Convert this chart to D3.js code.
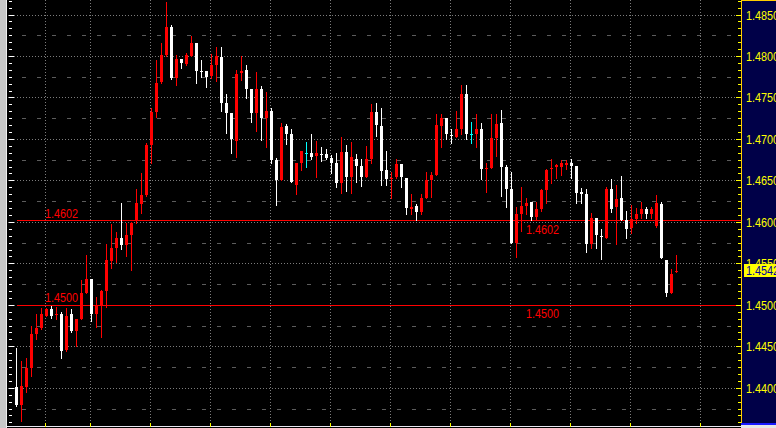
<!DOCTYPE html>
<html><head><meta charset="utf-8">
<script src="https://cdn.jsdelivr.net/npm/d3@7"></script>
<style>html,body{margin:0;padding:0;background:#000;overflow:hidden}svg{display:block}</style>
</head><body><svg id="c" width="776" height="428"></svg>
<script>
// ---- data ----
const open = [1.4401,1.4380,1.4402,1.4425,1.4466,1.4473,1.4487,1.4496,1.4489,1.4490,
1.4446,1.4490,1.4469,1.4483,1.4515,1.4532,1.4490,1.4501,1.4517,1.4554,
1.4569,1.4581,1.4573,1.4585,1.4603,1.4622,1.4633,1.4693,1.4733,1.4769,
1.4802,1.4836,1.4774,1.4797,1.4791,1.4801,1.4816,1.4783,1.4783,1.4777,
1.4790,1.4799,1.4744,1.4732,1.4698,1.4780,1.4784,1.4761,1.4732,1.4761,
1.4726,1.4734,1.4675,1.4651,1.4716,1.4706,1.4645,1.4672,1.4684,1.4684,
1.4680,1.4683,1.4683,1.4678,1.4672,1.4648,1.4685,1.4655,1.4676,1.4668,
1.4655,1.4676,1.4733,1.4716,1.4663,1.4653,1.4655,1.4670,1.4654,1.4616,
1.4620,1.4613,1.4630,1.4651,1.4657,1.4716,1.4726,1.4705,1.4703,1.4712,
1.4755,1.4706,1.4706,1.4712,1.4664,1.4666,1.4702,1.4720,1.4667,1.4640,
1.4575,1.4610,1.4620,1.4625,1.4607,1.4616,1.4639,1.4664,1.4667,1.4667,
1.4669,1.4672,1.4668,1.4637,1.4634,1.4574,1.4605,1.4584,1.4581,1.4640,
1.4619,1.4630,1.4603,1.4593,1.4604,1.4610,1.4616,1.4610,1.4596,1.4622,
1.4555,1.4515,1.4541];
const high = [1.4449,1.4433,1.4436,1.4475,1.4490,1.4497,1.4497,1.4499,1.4498,1.4492,
1.4497,1.4495,1.4483,1.4531,1.4561,1.4532,1.4510,1.4519,1.4574,1.4598,
1.4589,1.4623,1.4599,1.4601,1.4640,1.4660,1.4696,1.4738,1.4796,1.4816,
1.4866,1.4838,1.4802,1.4797,1.4804,1.4825,1.4816,1.4796,1.4783,1.4803,
1.4811,1.4811,1.4755,1.4732,1.4784,1.4801,1.4790,1.4761,1.4781,1.4765,
1.4757,1.4738,1.4678,1.4720,1.4719,1.4713,1.4672,1.4686,1.4697,1.4707,
1.4698,1.4691,1.4689,1.4681,1.4684,1.4703,1.4693,1.4697,1.4683,1.4676,
1.4692,1.4743,1.4744,1.4738,1.4686,1.4661,1.4676,1.4670,1.4654,1.4634,
1.4622,1.4634,1.4661,1.4661,1.4731,1.4731,1.4726,1.4713,1.4734,1.4766,
1.4766,1.4721,1.4731,1.4720,1.4672,1.4731,1.4731,1.4736,1.4669,1.4661,
1.4619,1.4643,1.4630,1.4625,1.4625,1.4640,1.4664,1.4676,1.4670,1.4675,
1.4675,1.4676,1.4668,1.4642,1.4640,1.4611,1.4605,1.4592,1.4643,1.4652,
1.4645,1.4656,1.4614,1.4621,1.4617,1.4625,1.4619,1.4619,1.4633,1.4625,
1.4555,1.4544,1.4561];
const low = [1.4379,1.4361,1.4395,1.4415,1.4460,1.4472,1.4487,1.4485,1.4484,1.4437,
1.4445,1.4468,1.4451,1.4483,1.4515,1.4481,1.4474,1.4462,1.4498,1.4545,
1.4552,1.4568,1.4560,1.4543,1.4599,1.4611,1.4632,1.4672,1.4727,1.4768,
1.4801,1.4773,1.4766,1.4786,1.4790,1.4801,1.4768,1.4775,1.4763,1.4774,
1.4771,1.4734,1.4708,1.4684,1.4679,1.4772,1.4750,1.4721,1.4710,1.4699,
1.4691,1.4672,1.4621,1.4651,1.4695,1.4649,1.4634,1.4663,1.4667,1.4676,
1.4655,1.4674,1.4677,1.4660,1.4643,1.4636,1.4638,1.4636,1.4649,1.4644,
1.4655,1.4672,1.4704,1.4645,1.4645,1.4630,1.4654,1.4643,1.4610,1.4610,
1.4603,1.4610,1.4630,1.4631,1.4657,1.4691,1.4701,1.4696,1.4703,1.4707,
1.4701,1.4696,1.4691,1.4652,1.4637,1.4666,1.4680,1.4632,1.4619,1.4575,
1.4558,1.4590,1.4610,1.4603,1.4604,1.4614,1.4623,1.4648,1.4654,1.4657,
1.4664,1.4654,1.4623,1.4623,1.4564,1.4569,1.4569,1.4556,1.4581,1.4613,
1.4574,1.4603,1.4581,1.4587,1.4599,1.4605,1.4605,1.4605,1.4595,1.4557,
1.4511,1.4515,1.4540];
const close = [1.4380,1.4403,1.4425,1.4466,1.4473,1.4490,1.4496,1.4487,1.4490,1.4445,
1.4487,1.4469,1.4483,1.4515,1.4532,1.4490,1.4501,1.4517,1.4555,1.4569,
1.4581,1.4573,1.4585,1.4599,1.4623,1.4633,1.4693,1.4733,1.4768,1.4802,
1.4836,1.4774,1.4797,1.4792,1.4802,1.4816,1.4783,1.4781,1.4775,1.4790,
1.4801,1.4744,1.4732,1.4701,1.4779,1.4783,1.4761,1.4732,1.4761,1.4726,
1.4734,1.4675,1.4651,1.4715,1.4706,1.4649,1.4672,1.4686,1.4684,1.4679,
1.4684,1.4682,1.4678,1.4672,1.4648,1.4685,1.4655,1.4679,1.4668,1.4655,
1.4676,1.4733,1.4718,1.4662,1.4652,1.4654,1.4670,1.4655,1.4617,1.4619,
1.4613,1.4630,1.4651,1.4657,1.4718,1.4726,1.4706,1.4704,1.4712,1.4755,
1.4706,1.4706,1.4712,1.4664,1.4666,1.4702,1.4719,1.4667,1.4640,1.4575,
1.4610,1.4620,1.4623,1.4607,1.4616,1.4639,1.4663,1.4666,1.4669,1.4672,
1.4672,1.4668,1.4636,1.4634,1.4574,1.4605,1.4585,1.4583,1.4640,1.4616,
1.4628,1.4603,1.4592,1.4604,1.4610,1.4616,1.4610,1.4616,1.4623,1.4557,
1.4515,1.4538,1.4542];
const priceTicks = [1.4400,1.4450,1.4500,1.4550,1.4600,1.4650,1.4700,1.4750,1.4800,1.4850];
const tickLabels = ["1.4400","1.4450","1.4500","1.4550","1.4600","1.4650","1.4700","1.4750","1.4800","1.4850"];
const minorLevels = [1.4375,1.4425,1.4475,1.4525,1.4575,1.4625,1.4675,1.4725,1.4775,1.4825];
const levelLines = [1.4602,1.4500];
const levelLabels = ["1.4602","1.4500"];
const periodMarks = [5.8,14.8,26.8,38.8,50.8,62.8,74.8,86.8,98.8,110.8,122.8,136.8];
const lastPrice = 1.4542, lastLabel = "1.4542";
const rulerDivisions = 6;

// ---- drawing ----
const W=776, H=428, plotL=7, plotR=741, plotB=425;
const svg = d3.select("#c");
const x = d3.scaleLinear().domain([0, close.length-1]).range([16.5, 676.5]);
const y = d3.scaleLinear().domain([1.4400, 1.4850]).range([388.3, 15]);
const crisp = v => Math.floor(v) + 0.5;
const FONT = "'Liberation Sans', Arial, sans-serif";

svg.append("rect").attr("width",W).attr("height",H).attr("fill","#000");
svg.append("rect").attr("x",0).attr("y",0).attr("width",6).attr("height",H).attr("fill","#c8c8c8");
svg.append("rect").attr("x",6).attr("y",0).attr("width",1).attr("height",H).attr("fill","#eeeeee");

const grid = svg.append("g").attr("shape-rendering","crispEdges");
// major horizontal dotted
grid.selectAll("line.hmaj").data(priceTicks).join("line").attr("class","hmaj")
  .attr("x1",plotL+1).attr("x2",plotR).attr("y1",d=>crisp(y(d))).attr("y2",d=>crisp(y(d)))
  .attr("stroke","#7c7c7c").attr("stroke-dasharray","1,2");
// minor dashed
grid.selectAll("line.hmin").data(minorLevels).join("line").attr("class","hmin")
  .attr("x1",22).attr("x2",plotR).attr("y1",d=>crisp(y(d))).attr("y2",d=>crisp(y(d)))
  .attr("stroke","#5c5c5c").attr("stroke-dasharray","4,11");
// vertical dotted
grid.selectAll("line.v").data(periodMarks).join("line").attr("class","v")
  .attr("x1",d=>crisp(x(d))).attr("x2",d=>crisp(x(d))).attr("y1",0).attr("y2",plotB)
  .attr("stroke","#7c7c7c").attr("stroke-dasharray","1,2");

// ruler ticks
const step = (priceTicks[1]-priceTicks[0]) / rulerDivisions;
const ruler = [];
for (let k=-3; k<80; k++) {
  const p = priceTicks[priceTicks.length-1] - k*step;
  const yy = y(p);
  if (yy >= 0 && yy <= plotB-1) ruler.push({yy, major: ((k%rulerDivisions)+rulerDivisions)%rulerDivisions===0});
}
const rg = svg.append("g").attr("shape-rendering","crispEdges");
rg.selectAll("line.l").data(ruler).join("line").attr("class","l")
  .attr("x1",9).attr("x2",d=>d.major?14:12).attr("y1",d=>crisp(d.yy)).attr("y2",d=>crisp(d.yy))
  .attr("stroke","#ffffff");

// level lines
const lv = svg.append("g").attr("shape-rendering","crispEdges");
lv.selectAll("line").data(levelLines).join("line")
  .attr("x1",x(0)).attr("x2",plotR).attr("y1",d=>crisp(y(d))).attr("y2",d=>crisp(y(d)))
  .attr("stroke","#ff0000");

// candles
const data = close.map((c,i)=>({i,o:open[i],h:high[i],l:low[i],c}));
const colorOf = d => d.c > d.o ? "#ff0000" : (d.c < d.o ? "#ffffff" : "#00ffff");
const cg = svg.append("g").attr("shape-rendering","crispEdges");
cg.selectAll("line").data(data).join("line")
  .attr("x1",d=>x(d.i)).attr("x2",d=>x(d.i))
  .attr("y1",d=>Math.round(y(d.h))).attr("y2",d=>Math.round(y(d.l))+1)
  .attr("stroke",colorOf);
cg.selectAll("rect").data(data).join("rect")
  .attr("x",d=>x(d.i)-1.5).attr("width",3)
  .attr("y",d=>Math.round(y(Math.max(d.o,d.c))))
  .attr("height",d=>Math.max(1, Math.round(y(Math.min(d.o,d.c))) - Math.round(y(Math.max(d.o,d.c)))))
  .attr("fill",colorOf);

// level labels
const lt = svg.append("g").attr("font-family",FONT).attr("font-size","12.5px").attr("fill","#ff0000");
lt.selectAll("text.a").data(levelLines).join("text").attr("class","a")
  .attr("x",45).attr("y",d=>Math.round(y(d))-3).attr("textLength",33).attr("lengthAdjust","spacingAndGlyphs")
  .text((d,i)=>levelLabels[i]);
lt.selectAll("text.b").data(levelLines).join("text").attr("class","b")
  .attr("x",526).attr("y",d=>Math.round(y(d))+13).attr("textLength",33).attr("lengthAdjust","spacingAndGlyphs")
  .text((d,i)=>levelLabels[i]);

// bottom border
svg.append("line").attr("x1",plotL).attr("x2",plotR).attr("y1",426.5).attr("y2",426.5)
  .attr("stroke","#e8e8f0").attr("shape-rendering","crispEdges");
svg.selectAll("line.bt").data(periodMarks).join("line").attr("class","bt")
  .attr("x1",d=>crisp(x(d))).attr("x2",d=>crisp(x(d))).attr("y1",423).attr("y2",427)
  .attr("stroke","#ffff00").attr("shape-rendering","crispEdges");

// right axis panel
const ax = svg.append("g");
ax.append("rect").attr("x",plotR).attr("y",0).attr("width",W-plotR).attr("height",423).attr("fill","#000048");
ax.append("rect").attr("x",plotR).attr("y",423).attr("width",W-plotR).attr("height",2).attr("fill","#1a1aff");
ax.append("rect").attr("x",plotR).attr("y",425).attr("width",W-plotR).attr("height",3).attr("fill","#e6e6e6");
ax.append("line").attr("x1",plotR+0.5).attr("x2",plotR+0.5).attr("y1",0).attr("y2",423)
  .attr("stroke","#ffcc00").attr("shape-rendering","crispEdges");
ax.append("line").attr("x1",plotR).attr("x2",W).attr("y1",0.5).attr("y2",0.5)
  .attr("stroke","#ffcc00").attr("shape-rendering","crispEdges");
ax.selectAll("line.rt").data(ruler).join("line").attr("class","rt")
  .attr("x1",d=>d.major?736:738).attr("x2",plotR).attr("y1",d=>crisp(d.yy)).attr("y2",d=>crisp(d.yy))
  .attr("stroke","#ffff00").attr("shape-rendering","crispEdges");
ax.selectAll("text.tl").data(priceTicks).join("text").attr("class","tl")
  .attr("x",746).attr("y",d=>y(d)).attr("dy","0.36em")
  .attr("font-family",FONT).attr("font-size","12.5px").attr("fill","#ffff00")
  .attr("textLength",33).attr("lengthAdjust","spacingAndGlyphs")
  .text((d,i)=>tickLabels[i]);
// last price tag
ax.append("rect").attr("x",744).attr("y",Math.round(y(lastPrice))-7).attr("width",W-744).attr("height",13)
  .attr("fill","#ffff00");
ax.append("text").attr("x",746).attr("y",y(lastPrice)).attr("dy","0.36em")
  .attr("font-family",FONT).attr("font-size","12.5px").attr("fill","#0000a0")
  .attr("textLength",33).attr("lengthAdjust","spacingAndGlyphs").text(lastLabel);
</script></body></html>
